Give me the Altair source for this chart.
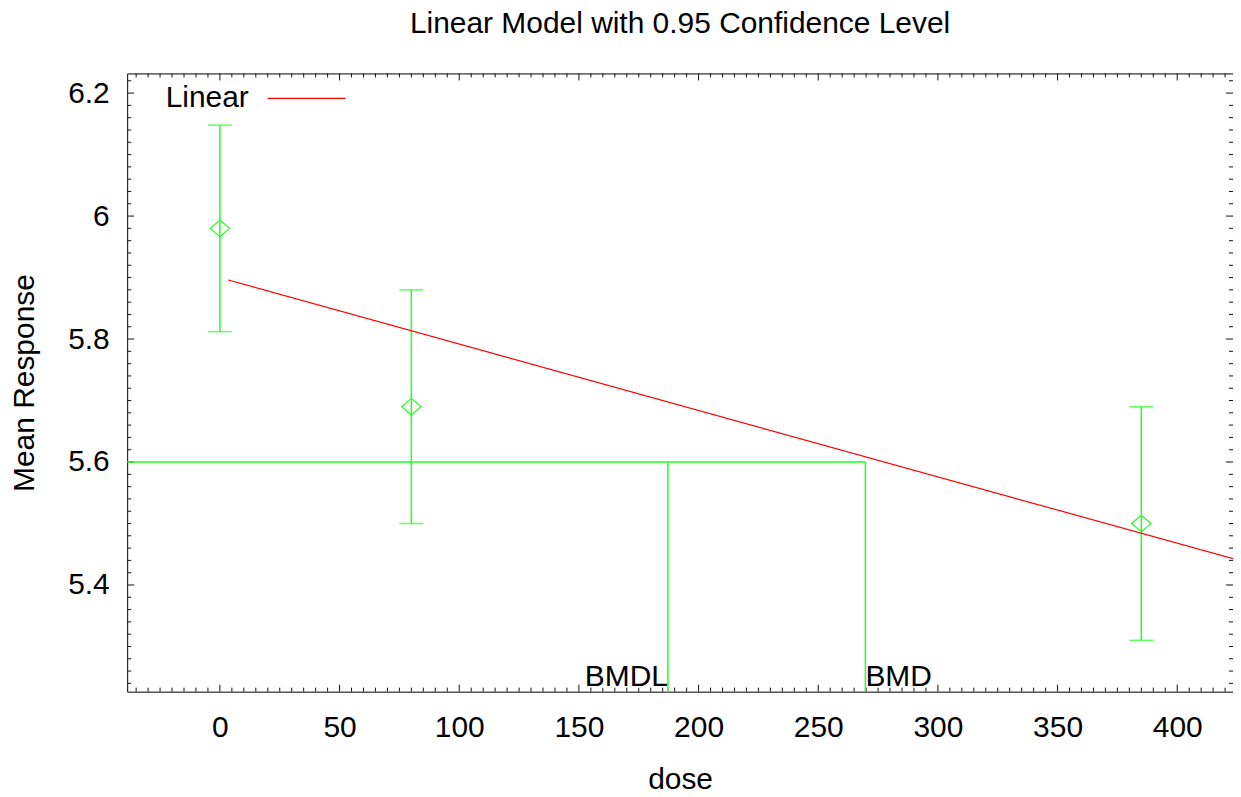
import altair as alt
import pandas as pd

# ---- data ----
dose = [0, 80, 385]
mean_resp = [5.98, 5.69, 5.50]
ci_low = [5.812, 5.50, 5.31]
ci_high = [6.148, 5.88, 5.69]

fit_dose = [3.5, 424.0]
fit_resp = [5.896, 5.442]

bmr_level = 5.6
bmd = 269.7
bmdl = 187.2

x_domain = [-38.75, 423.3]
y_domain = [5.2265, 6.232]

x_major = [0, 50, 100, 150, 200, 250, 300, 350, 400]
x_minor = [v for v in range(-35, 421, 5) if v % 50 != 0]
y_major = [5.4, 5.6, 5.8, 6.0, 6.2]
y_minor = [round(5.24 + 0.02 * i, 2) for i in range(50)]
y_minor = [v for v in y_minor if all(abs(v - m) > 1e-6 for m in y_major) and v < 6.232]

W, H = 1109, 620
FONT = "Liberation Sans"
FS = 30
GREEN = "#22ff22"
RED = "#ff0000"
GW = 1.5

pts = pd.DataFrame({"dose": dose, "mean": mean_resp, "lo": ci_low, "hi": ci_high})
fit = pd.DataFrame({"dose": fit_dose, "resp": fit_resp, "model": ["Linear"] * 2})
hline = pd.DataFrame({"dose": [x_domain[0], bmd], "resp": [bmr_level, bmr_level]})
vlines = pd.DataFrame({"dose": [bmdl, bmd], "top": [bmr_level, bmr_level],
                       "bot": [y_domain[0], y_domain[0]]})
labels = pd.DataFrame({"dose": [bmdl, bmd], "text": ["BMDL", "BMD"]})

xscale = alt.Scale(domain=x_domain, nice=False, zero=False)
yscale = alt.Scale(domain=y_domain, nice=False, zero=False)

xaxis = alt.Axis(values=x_major, ticks=False, tickSize=0, domain=False, grid=False,
                 labelFont=FONT, labelFontSize=FS, labelColor="black", labelPadding=21,
                 title="dose", titleFont=FONT, titleFontSize=FS, titleFontWeight="normal",
                 titleColor="black", titleX=W / 2, titleY=97, titleBaseline="alphabetic",
                 labelFlush=False)
yaxis = alt.Axis(values=y_major, ticks=False, tickSize=0, domain=False, grid=False,
                 labelFont=FONT, labelFontSize=FS, labelColor="black", labelPadding=18,
                 format=".1~f",
                 title="Mean Response", titleFont=FONT, titleFontSize=FS,
                 titleFontWeight="normal", titleColor="black", titleX=-94, titleY=H / 2,
                 titleBaseline="alphabetic", titleAngle=270, titleAlign="center",
                 labelFlush=False)


def X(field, axis=True):
    return alt.X(f"{field}:Q", scale=xscale, axis=xaxis if axis else None)


def Y(field, axis=True):
    return alt.Y(f"{field}:Q", scale=yscale, axis=yaxis if axis else None)


base_pts = alt.Chart(pts)

err = base_pts.mark_rule(color=GREEN, strokeWidth=GW).encode(
    x=X("dose"), y=Y("lo"), y2="hi")
cap_hi = base_pts.mark_tick(color=GREEN, orient="horizontal", size=24, thickness=GW).encode(
    x=X("dose"), y=Y("hi"))
cap_lo = base_pts.mark_tick(color=GREEN, orient="horizontal", size=24, thickness=GW).encode(
    x=X("dose"), y=Y("lo"))
diamonds = base_pts.mark_point(
    shape="M-1,0L0,-0.85L1,0L0,0.85Z", size=380, filled=False, color=GREEN,
    strokeWidth=1.2, opacity=1).encode(x=X("dose"), y=Y("mean"))

fit_line = alt.Chart(fit).mark_line(strokeWidth=1.2, clip=True).encode(
    x=X("dose"), y=Y("resp"),
    color=alt.Color("model:N", scale=alt.Scale(domain=["Linear"], range=[RED]),
                    legend=alt.Legend(orient="none", legendX=140, legendY=-15, title=None,
                                      symbolType="stroke", symbolSize=6084,
                                      symbolStrokeWidth=1.2, labelOffset={"expr": "-98"},
                                      labelAlign="right", labelFont=FONT,
                                      labelFontSize=FS, labelColor="black", padding=0)))

bmr_line = alt.Chart(hline).mark_line(color=GREEN, strokeWidth=GW).encode(
    x=X("dose"), y=Y("resp"))
bmd_lines = alt.Chart(vlines).mark_rule(color=GREEN, strokeWidth=GW).encode(
    x=X("dose"), y=Y("bot"), y2="top")

lbl_bmdl = alt.Chart(labels.iloc[[0]]).mark_text(
    align="right", baseline="alphabetic", font=FONT, fontSize=FS, color="black", dy=-6
).encode(x=X("dose"), y=alt.value(H), text="text:N")
lbl_bmd = alt.Chart(labels.iloc[[1]]).mark_text(
    align="left", baseline="alphabetic", font=FONT, fontSize=FS, color="black", dy=-6
).encode(x=X("dose"), y=alt.value(H), text="text:N")

TICK = "#111111"
xmaj = pd.DataFrame({"v": x_major})
xmin = pd.DataFrame({"v": x_minor})
ymaj = pd.DataFrame({"v": y_major})
ymin = pd.DataFrame({"v": y_minor})

ticks = []
for df, L in [(xmaj, 7), (xmin, 4)]:
    ticks.append(alt.Chart(df).mark_rule(color=TICK, strokeWidth=1).encode(
        x=X("v"), y=alt.value(H), y2=alt.value(H - L)))
    ticks.append(alt.Chart(df).mark_rule(color=TICK, strokeWidth=1).encode(
        x=X("v"), y=alt.value(0), y2=alt.value(L)))
for df, L in [(ymaj, 7), (ymin, 4)]:
    ticks.append(alt.Chart(df).mark_rule(color=TICK, strokeWidth=1).encode(
        y=Y("v"), x=alt.value(0), x2=alt.value(L)))
    ticks.append(alt.Chart(df).mark_rule(color=TICK, strokeWidth=1).encode(
        y=Y("v"), x=alt.value(W), x2=alt.value(W - L)))

chart = alt.layer(
    *ticks, bmr_line, bmd_lines, err, cap_hi, cap_lo, diamonds, fit_line, lbl_bmdl, lbl_bmd
).properties(
    width=W, height=H,
    title=alt.TitleParams("Linear Model with 0.95 Confidence Level", font=FONT, fontSize=FS,
                          fontWeight="normal", color="black", anchor="middle", offset=20),
    autosize=alt.AutoSizeParams(type="none"),
    padding={"left": 119.5, "top": 64.5, "right": 0, "bottom": 97},
).configure(
    background="white",
    view=alt.ViewConfig(stroke="black", strokeWidth=1),
)

chart.save("out.html", embed_options={"renderer": "svg", "actions": False})
